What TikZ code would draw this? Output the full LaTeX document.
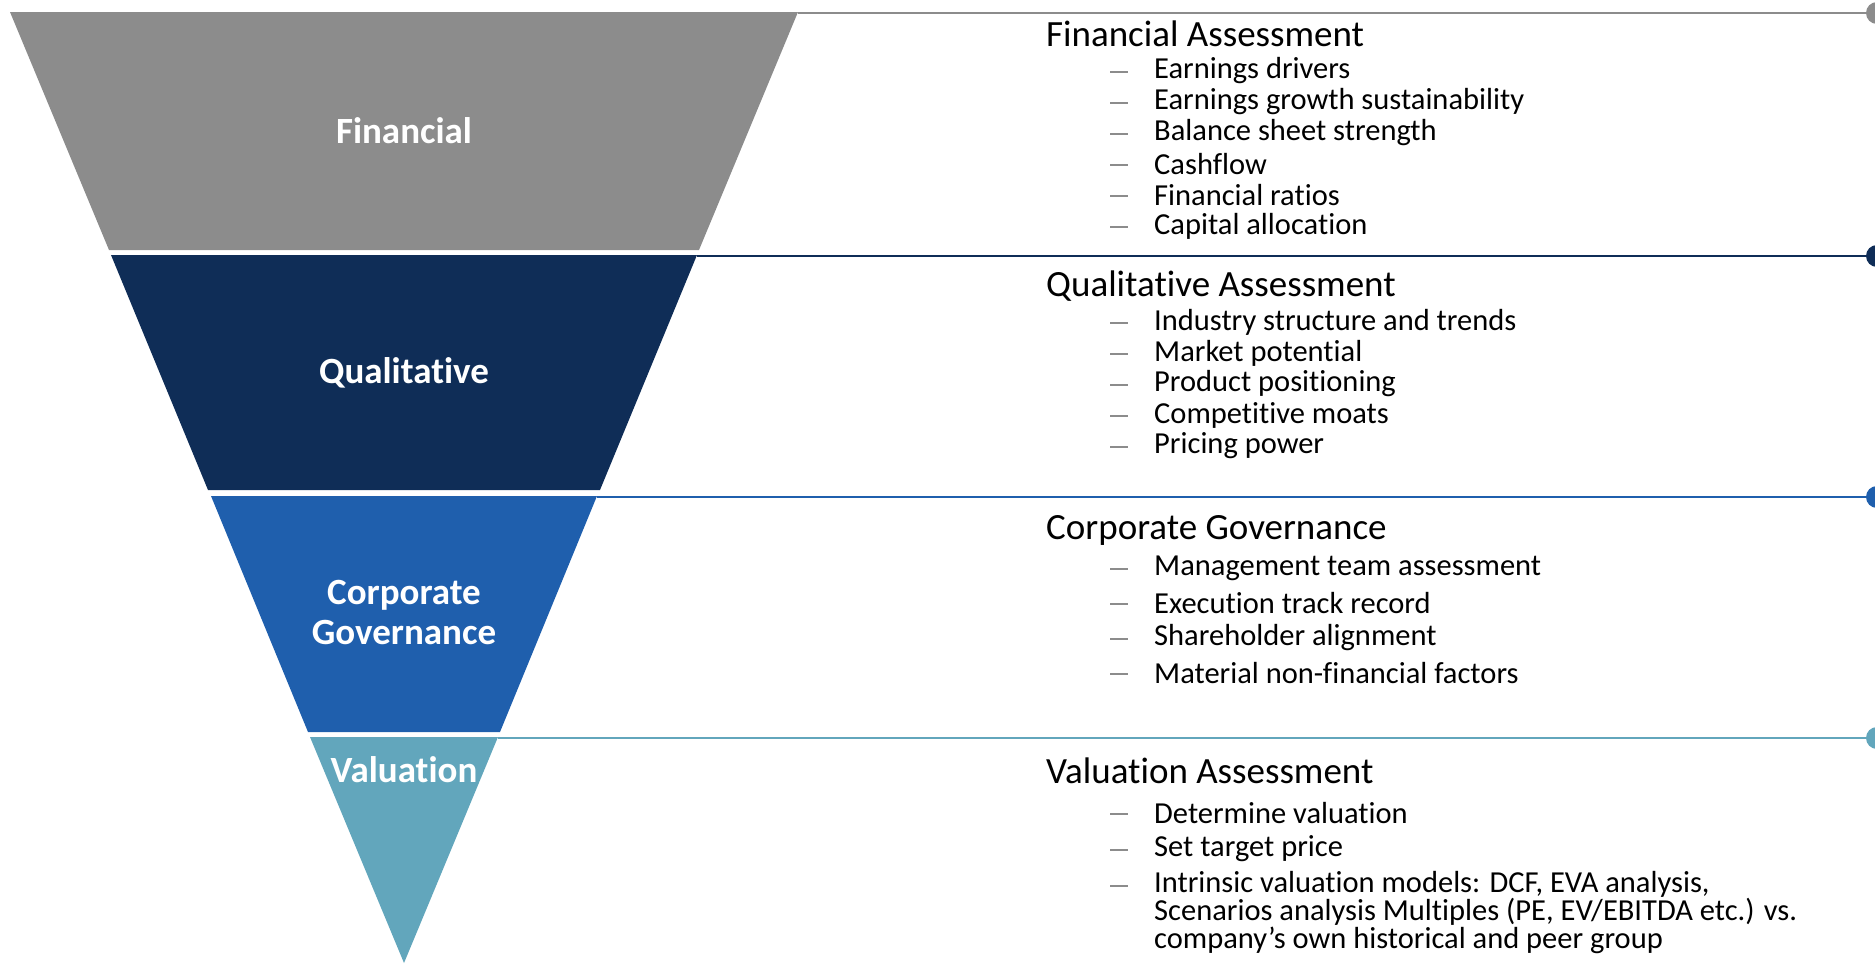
\documentclass[tikz,border=0pt]{standalone}
\usepackage{fontspec}
\setmainfont{Carlito}[RawFeature={-liga;-clig;-calt;-dlig;-rlig}]
\definecolor{cgray}{HTML}{8C8C8C}
\definecolor{cnavy}{HTML}{0F2D57}
\definecolor{cblue}{HTML}{1F5FAD}
\definecolor{cteal}{HTML}{62A6BC}
\definecolor{cdash}{HTML}{8C8C8C}
\begin{document}
\begin{tikzpicture}[x=1pt,y=-1pt,
  layerlabel/.style={text=white,font=\fontsize{37}{40}\selectfont\bfseries,align=center,inner sep=0pt},
  heading/.style={anchor=west,font=\fontsize{37}{40}\selectfont,inner sep=0pt},
  item/.style={anchor=west,font=\fontsize{30.5}{25}\selectfont,inner sep=0pt,align=left},
  bulletdash/.style={anchor=west,inner sep=0pt,text=cdash},
  sepline/.style={line width=2.5pt},
  enddot/.style={circle,minimum size=22pt,inner sep=0pt}
]
\newcommand{\dashmark}{\rule{18pt}{1.8pt}}
\useasboundingbox (0,0) rectangle (1875,964);
% funnel layers (center x=404, apex y=963)
\fill[cgray] (10,12) -- (798,12) -- (699,250) -- (109,250) -- cycle;
\fill[cnavy] (111,255) -- (697,255) -- (600,490) -- (208,490) -- cycle;
\fill[cblue] (211,496) -- (597,496) -- (500,732) -- (308,732) -- cycle;
\fill[cteal] (310,737) -- (498,737) -- (404,963) -- cycle;
% corners and end dots
\coordinate (c1) at (798,13);
\coordinate (c2) at (697,256);
\coordinate (c3) at (597,497);
\coordinate (c4) at (498,738);
\node[enddot,fill=cgray] (d1) at (1877,13) {};
\node[enddot,fill=cnavy] (d2) at (1877,256) {};
\node[enddot,fill=cblue] (d3) at (1877,497) {};
\node[enddot,fill=cteal] (d4) at (1877,738) {};
\draw[sepline,cgray] (c1) -- (d1);
\draw[sepline,cnavy] (c2) -- (d2);
\draw[sepline,cblue] (c3) -- (d3);
\draw[sepline,cteal] (c4) -- (d4);
% layer labels
\node[layerlabel] (l1) at (404,131) {Financial};
\node[layerlabel] (l2) at (404,373) {Qualitat\kern0pt ive};
\node[layerlabel] (l3) at (404,612) {Corporate\\Governance};
\node[layerlabel] (l4) at (404,770) {Valuat\kern0pt ion};
% Financial
\node[heading] (h1) at (1046,34) {Financial Assessment};
\foreach \t [count=\i] in {Earnings drivers,Earnings growth sustainability,Balance sheet strength,Cashflow,Financial ratios,Capital allocation}{
  \node[bulletdash] (fd\i) at (1110,72+31*\i-31) {\dashmark};
  \node[item] (f\i) at (1154,71+31*\i-31) {\t};
}
% Qualitative
\node[heading] (h2) at (1046,286) {Qualitat\kern0pt ive Assessment};
\foreach \t [count=\i] in {Industry structure and trends,Market potent\kern0pt ial,Product posit\kern0pt ioning,Compet\kern0pt it\kern0pt ive moats,Pricing power}{
  \node[bulletdash] (qd\i) at (1110,323+31*\i-31) {\dashmark};
  \node[item] (q\i) at (1154,322+31*\i-31) {\t};
}
% Corporate Governance
\node[heading] (h3) at (1046,530) {Corporate Governance};
\foreach \t [count=\i] in {Management team assessment,Execut\kern0pt ion track record,Shareholder alignment,Material non-financial factors}{
  \node[bulletdash] (cd\i) at (1110,569+35*\i-35) {\dashmark};
  \node[item] (cg\i) at (1154,568+35*\i-35) {\t};
}
% Valuation
\node[heading] (h4) at (1046,771) {Valuat\kern0pt ion Assessment};
\node[bulletdash] (vd1) at (1110,814) {\dashmark};
\node[item] (v1) at (1154,813) {Determine valuat\kern0pt ion};
\node[bulletdash] (vd2) at (1110,850) {\dashmark};
\node[item] (v2) at (1154,849) {Set target price};
\node[bulletdash] (vd3) at (1110,886) {\dashmark};
\node[item,anchor=north west] (v3) at (1154,871) {Intrinsic valuat\kern0pt ion models: DCF, EVA analysis,\\Scenarios analysis Mult\kern0pt iples (PE, EV/EBITDA etc.) vs.\\company’s own historical and peer group};
\end{tikzpicture}
\end{document}
